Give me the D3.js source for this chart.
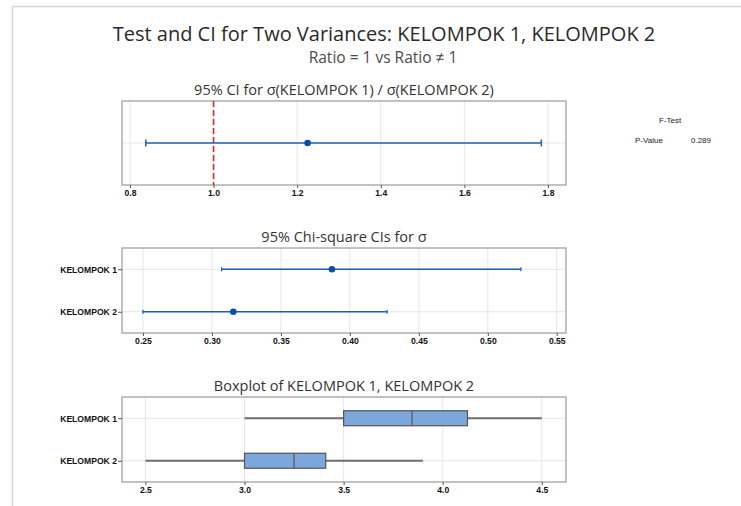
<!DOCTYPE html>
<html>
<head>
<meta charset="utf-8">
<script src="https://cdn.jsdelivr.net/npm/d3@7"></script>
<style>
  body { margin: 0; background: #fff; }
  svg { display: block; }
  .tick text { font-family: "Liberation Sans", Arial, sans-serif; font-size: 8.6px; font-weight: bold; fill: #111; }
  .tick line { stroke: #555; }
</style>
</head>
<body>
<div id="chart-area"></div>
<script>
// Data
var groups = ["KELOMPOK 1", "KELOMPOK 2"];

var ratioCI = [0.838, 1.225, 1.784];      // lower, estimate, upper
var ratioNull = 1.0;
var ratioTicks = [0.8, 1.0, 1.2, 1.4, 1.6, 1.8];

var sigmaLower = [0.307, 0.250];
var sigmaEst = [0.387, 0.3155];
var sigmaUpper = [0.524, 0.427];
var sigmaTicks = [0.25, 0.30, 0.35, 0.40, 0.45, 0.50, 0.55];

var boxMin = [3.0, 2.5];
var boxQ1 = [3.5, 3.0];
var boxMedian = [3.845, 3.25];
var boxQ3 = [4.125, 3.41];
var boxMax = [4.5, 3.9];
var boxTicks = [2.5, 3.0, 3.5, 4.0, 4.5];

var pValue = "0.289";

var W = 741, H = 506;
var left = 122, right = 566;
var blue = "#1f5fb0";

var svg = d3.select("#chart-area").append("svg")
    .attr("width", W)
    .attr("height", H);

// Outer frame (top / left light border)
svg.append("path")
    .attr("d", "M12.5,506 V6.5 H741")
    .attr("fill", "none")
    .attr("stroke", "#d6d6d6")
    .attr("stroke-width", 1.5);

// Titles
svg.append("text")
    .attr("x", 384).attr("y", 41)
    .attr("text-anchor", "middle")
    .attr("font-family", "Open Sans, sans-serif")
    .attr("font-size", "20px")
    .attr("font-weight", 500)
    .attr("fill", "#2a2a2a")
    .text("Test and CI for Two Variances: KELOMPOK 1, KELOMPOK 2");

svg.append("text")
    .attr("x", 383).attr("y", 63)
    .attr("text-anchor", "middle")
    .attr("font-family", "Open Sans, sans-serif")
    .attr("font-size", "15.5px")
    .attr("fill", "#4a4a4a")
    .text("Ratio = 1 vs Ratio \u2260 1");

// F-test box text
svg.append("text")
    .attr("x", 670).attr("y", 123)
    .attr("text-anchor", "middle")
    .attr("font-family", "Liberation Sans, Arial, sans-serif")
    .attr("font-size", "8px")
    .attr("fill", "#222")
    .text("F-Test");
svg.append("text")
    .attr("x", 635).attr("y", 143)
    .attr("font-family", "Liberation Sans, Arial, sans-serif")
    .attr("font-size", "8px")
    .attr("fill", "#222")
    .text("P-Value");
svg.append("text")
    .attr("x", 711).attr("y", 143)
    .attr("text-anchor", "end")
    .attr("font-family", "Liberation Sans, Arial, sans-serif")
    .attr("font-size", "8px")
    .attr("fill", "#222")
    .text(pValue);

// Builds one panel: frame, grid, x axis, optional y axis
function makePanel(top, bottom, domain, ticks, fmt, title, rows) {
    var x = d3.scaleLinear().domain(domain).range([left, right]);
    var y = d3.scalePoint().domain(rows).range([top, bottom]).padding(0.5);
    var g = svg.append("g");

    g.append("text")
        .attr("x", (left + right) / 2)
        .attr("y", top - 6)
        .attr("text-anchor", "middle")
        .attr("font-family", "Open Sans, sans-serif")
        .attr("font-size", "14.5px")
        .attr("fill", "#333")
        .text(title);

    // grid
    g.selectAll(".vgrid").data(ticks).enter().append("line")
        .attr("x1", d => x(d)).attr("x2", d => x(d))
        .attr("y1", top).attr("y2", bottom)
        .attr("stroke", "#e6e6e6");
    g.selectAll(".hgrid").data(rows).enter().append("line")
        .attr("x1", left).attr("x2", right)
        .attr("y1", d => y(d)).attr("y2", d => y(d))
        .attr("stroke", "#e6e6e6");

    g.append("rect")
        .attr("x", left).attr("y", top)
        .attr("width", right - left).attr("height", bottom - top)
        .attr("fill", "none")
        .attr("stroke", "#9a9a9a")
        .attr("stroke-width", 1.2);

    var xAxis = g.append("g")
        .attr("transform", "translate(0," + bottom + ")")
        .call(d3.axisBottom(x).tickValues(ticks).tickFormat(d3.format(fmt)).tickSize(3).tickPadding(2));
    xAxis.select(".domain").remove();

    if (rows[0] !== "") {
        var yAxis = g.append("g")
            .attr("transform", "translate(" + left + ",0)")
            .call(d3.axisLeft(y).tickSize(4).tickPadding(1));
        yAxis.select(".domain").remove();
    }
    return { x: x, y: y, g: g };
}

// Panel 1: ratio CI
var p1 = makePanel(101, 185, [0.781, 1.843], ratioTicks, ".1f",
    "95% CI for \u03c3(KELOMPOK 1) / \u03c3(KELOMPOK 2)", [""]);

p1.g.append("line")
    .attr("x1", p1.x(ratioNull)).attr("x2", p1.x(ratioNull))
    .attr("y1", 101).attr("y2", 185)
    .attr("stroke", "#e0262c")
    .attr("stroke-width", 1.6)
    .attr("stroke-dasharray", "6,3");

var cy1 = p1.y("");
p1.g.append("line")
    .attr("x1", p1.x(ratioCI[0])).attr("x2", p1.x(ratioCI[2]))
    .attr("y1", cy1).attr("y2", cy1)
    .attr("stroke", blue).attr("stroke-width", 1.5);
p1.g.selectAll(".cap").data([ratioCI[0], ratioCI[2]]).enter().append("line")
    .attr("x1", d => p1.x(d)).attr("x2", d => p1.x(d))
    .attr("y1", cy1 - 3.5).attr("y2", cy1 + 3.5)
    .attr("stroke", blue).attr("stroke-width", 1.5);
p1.g.append("circle")
    .attr("cx", p1.x(ratioCI[1])).attr("cy", cy1)
    .attr("r", 3.3).attr("fill", "#0a4fa3");

// Panel 2: chi-square CIs for sigma
var p2 = makePanel(248, 333, [0.2348, 0.5567], sigmaTicks, ".2f",
    "95% Chi-square CIs for \u03c3", groups);

groups.forEach(function(gname, i) {
    var cy = p2.y(gname);
    p2.g.append("line")
        .attr("x1", p2.x(sigmaLower[i])).attr("x2", p2.x(sigmaUpper[i]))
        .attr("y1", cy).attr("y2", cy)
        .attr("stroke", blue).attr("stroke-width", 1.5);
    p2.g.selectAll(".cap" + i).data([sigmaLower[i], sigmaUpper[i]]).enter().append("line")
        .attr("x1", d => p2.x(d)).attr("x2", d => p2.x(d))
        .attr("y1", cy - 2).attr("y2", cy + 2)
        .attr("stroke", blue).attr("stroke-width", 1.2);
    p2.g.append("circle")
        .attr("cx", p2.x(sigmaEst[i])).attr("cy", cy)
        .attr("r", 3.3).attr("fill", "#0a4fa3");
});

// Panel 3: boxplot
var p3 = makePanel(397, 482, [2.382, 4.622], boxTicks, ".1f",
    "Boxplot of KELOMPOK 1, KELOMPOK 2", groups);

groups.forEach(function(gname, i) {
    var cy = p3.y(gname);
    p3.g.append("line")
        .attr("x1", p3.x(boxMin[i])).attr("x2", p3.x(boxMax[i]))
        .attr("y1", cy).attr("y2", cy)
        .attr("stroke", "#6e6e6e").attr("stroke-width", 1.8);
    p3.g.append("rect")
        .attr("x", p3.x(boxQ1[i])).attr("y", cy - 7.5)
        .attr("width", p3.x(boxQ3[i]) - p3.x(boxQ1[i]))
        .attr("height", 15)
        .attr("fill", "#7ba7da")
        .attr("stroke", "#555").attr("stroke-width", 1.2);
    p3.g.append("line")
        .attr("x1", p3.x(boxMedian[i])).attr("x2", p3.x(boxMedian[i]))
        .attr("y1", cy - 7.5).attr("y2", cy + 7.5)
        .attr("stroke", "#555").attr("stroke-width", 1.2);
});
</script>
</body>
</html>
